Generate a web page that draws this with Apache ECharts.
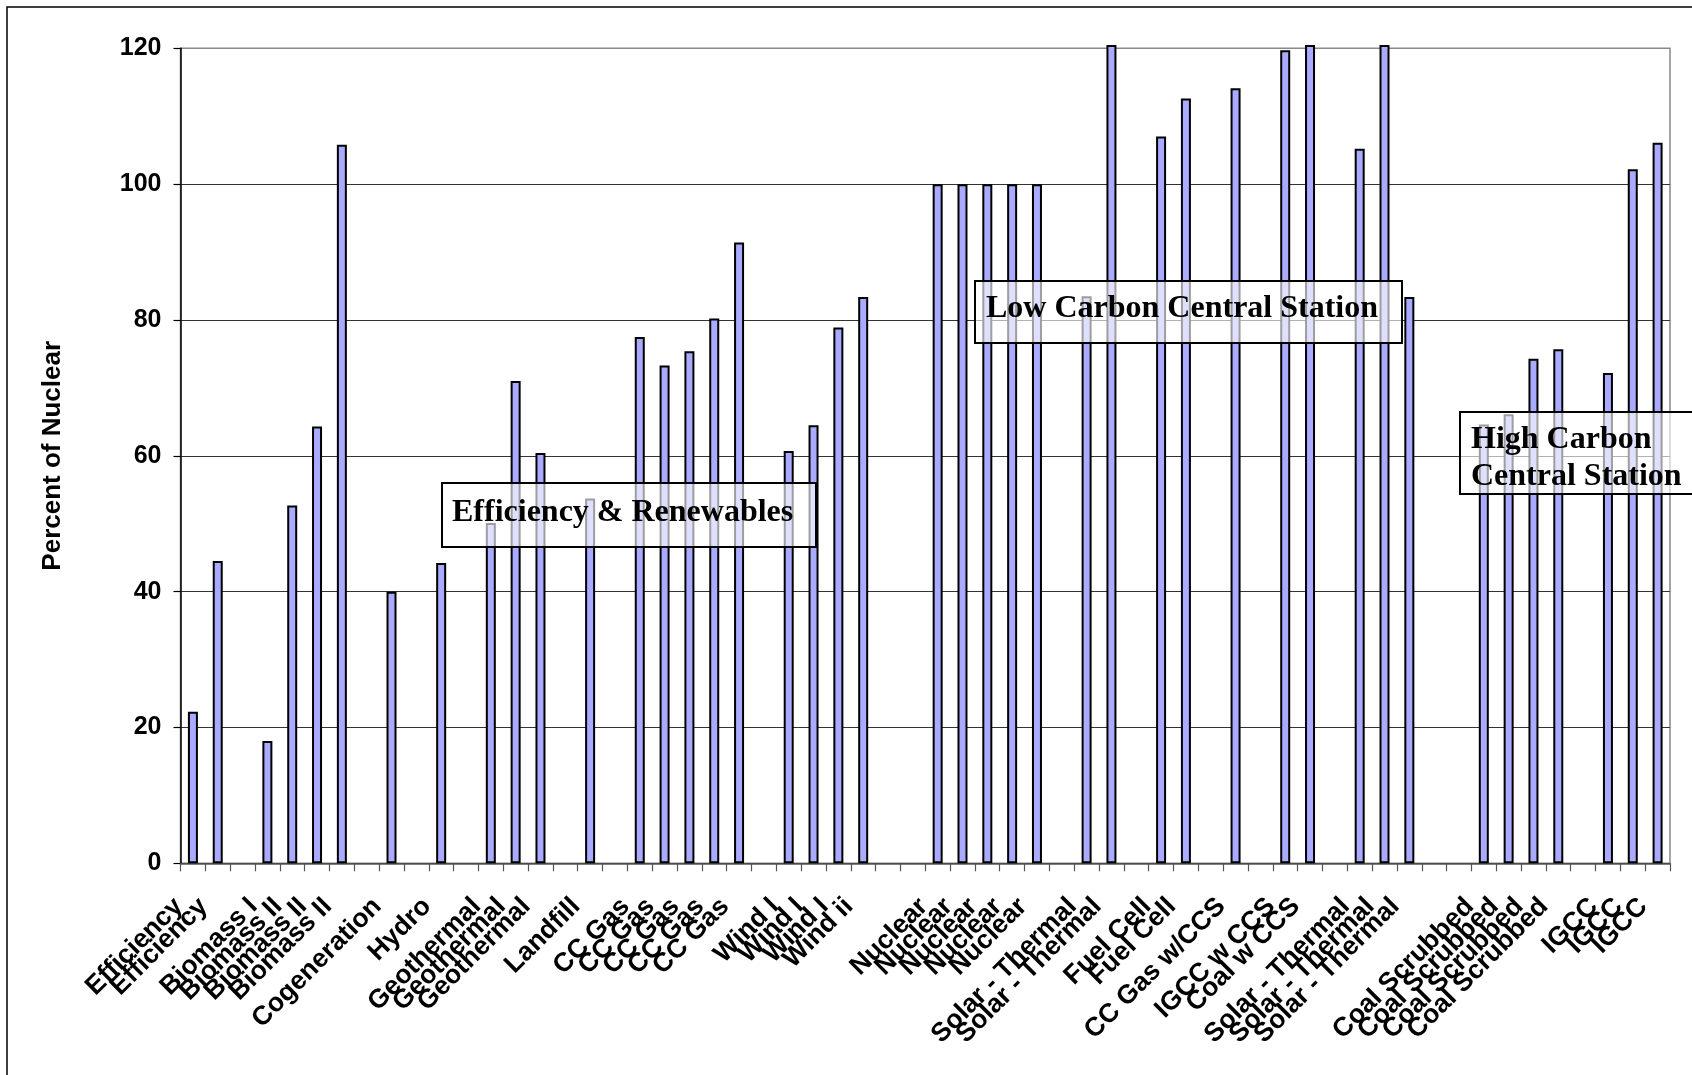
<!DOCTYPE html>
<html>
<head>
<meta charset="utf-8">
<title>Percent of Nuclear</title>
<script src="https://cdn.jsdelivr.net/npm/echarts@6/dist/echarts.min.js"></script>
<style>
  html, body { margin: 0; padding: 0; background: #ffffff; }
  #chart { width: 1692px; height: 1075px; }
</style>
</head>
<body>
<div id="chart"></div>
<script>
// Technology categories along the x axis (blank entries are spacer slots)
const categories = [
  'Efficiency', 'Efficiency', '', 'Biomass I', 'Biomass II', 'Biomass II', 'Biomass II', '',
  'Cogeneration', '', 'Hydro', '', 'Geothermal', 'Geothermal', 'Geothermal', '',
  'Landfill', '', 'CC Gas', 'CC Gas', 'CC Gas', 'CC Gas', 'CC Gas', '',
  'Wind I', 'Wind I', 'Wind I', 'Wind ii', '', '',
  'Nuclear', 'Nuclear', 'Nuclear', 'Nuclear', 'Nuclear', '',
  'Solar - Thermal', 'Solar - Thermal', '', 'Fuel Cell', 'Fuel Cell', '',
  'CC Gas w/CCS', '', 'IGCC w CCS', 'Coal w CCS', '',
  'Solar - Thermal', 'Solar - Thermal', 'Solar - Thermal', '', '',
  'Coal Scrubbed', 'Coal Scrubbed', 'Coal Scrubbed', 'Coal Scrubbed', '',
  'IGCC', 'IGCC', 'IGCC'
];

// Cost relative to nuclear, in percent (null = spacer slot)
const percentOfNuclear = [
  22.3, 44.5, null, 18.0, 52.7, 64.3, 105.8, null,
  40.0, null, 44.2, null, 50.1, 71.0, 60.4, null,
  53.7, null, 77.5, 73.3, 75.4, 80.2, 91.4, null,
  60.7, 64.5, 78.9, 83.4, null, null,
  100, 100, 100, 100, 100, null,
  83.5, 120.5, null, 107.0, 112.6, null,
  114.1, null, 119.7, 120.5, null,
  105.2, 120.5, 83.4, null, null,
  64.6, 66.1, 74.3, 75.7, null,
  72.2, 102.2, 106.1
];

// Value axis ticks
const yTicks = [0, 20, 40, 60, 80, 100, 120];

// Group captions
const groupLabels = ['Efficiency & Renewables', 'Low Carbon Central Station', 'High Carbon\nCentral Station'];

const chart = echarts.init(document.getElementById('chart'), null, { renderer: 'canvas' });

const axisFont = 'Liberation Sans, Arial, sans-serif';
const boxFont = 'Liberation Serif, Times New Roman, serif';

// Captions are drawn in a translucent framed box on top of the bars
function captionBox(x, y, w, h, text, textX, textDy, lineHeight) {
  return {
    type: 'group',
    z: 100,
    children: [
      {
        type: 'rect',
        shape: { x: x, y: y, width: w, height: h },
        style: { fill: 'rgba(255,255,255,0.62)', stroke: '#000', lineWidth: 2 },
        z: 100
      },
      {
        type: 'text',
        x: textX,
        y: y + h / 2 + textDy,
        style: {
          text: text,
          font: 'bold 32px ' + boxFont,
          fill: '#000',
          verticalAlign: 'middle',
          align: 'left',
          lineHeight: lineHeight
        },
        z: 101
      }
    ]
  };
}

const option = {
  backgroundColor: '#ffffff',
  animation: false,
  grid: {
    left: 180.5,
    right: 22,
    top: 48.3,
    bottom: 211.7,
    show: true,
    borderColor: '#888',
    borderWidth: 1.5,
    containLabel: false
  },
  xAxis: {
    type: 'category',
    data: categories,
    boundaryGap: true,
    axisLine: { show: true, lineStyle: { color: '#555', width: 1.5 } },
    axisTick: { show: true, alignWithLabel: false, interval: 0, length: 8, lineStyle: { color: '#555', width: 1.2 } },
    axisLabel: {
      interval: 0,
      rotate: 45,
      margin: 25,
      padding: [0, 20, 0, 0],
      color: '#000',
      fontFamily: axisFont,
      fontWeight: 'bold',
      fontSize: 26.5
    },
    splitLine: { show: false }
  },
  yAxis: {
    type: 'value',
    min: yTicks[0],
    max: yTicks[yTicks.length - 1],
    interval: 20,
    name: 'Percent of Nuclear',
    nameLocation: 'middle',
    nameGap: 115,
    nameRotate: 90,
    nameTextStyle: { color: '#000', fontFamily: axisFont, fontWeight: 'bold', fontSize: 26 },
    axisLine: { show: true, lineStyle: { color: '#000', width: 1.5 } },
    axisTick: { show: true, inside: false, length: 7, lineStyle: { color: '#000', width: 1.2 } },
    axisLabel: {
      margin: 19,
      color: '#000',
      fontFamily: axisFont,
      fontWeight: 'bold',
      fontSize: 25
    },
    splitLine: {
      show: true,
      lineStyle: {
        color: ['#333', '#333', '#333', '#333', '#333', '#333', '#888'],
        width: 1.2
      }
    }
  },
  series: [
    {
      type: 'bar',
      data: percentOfNuclear,
      barWidth: 10,
      clip: false,
      itemStyle: { color: '#aaaaff', borderColor: '#000', borderWidth: 2 },
      emphasis: { disabled: true }
    }
  ],
  graphic: [
    // outer frame
    {
      type: 'rect',
      z: 120,
      shape: { x: 7, y: 7, width: 1720, height: 1120 },
      style: { fill: 'none', stroke: '#000', lineWidth: 1.5 }
    },
    captionBox(442, 483, 374, 64, groupLabels[0], 452, -2.5, 36),
    captionBox(975, 281, 427, 62, groupLabels[1], 986, -3, 36),
    captionBox(1460, 412, 260, 82, groupLabels[2], 1471, 5, 37)
  ]
};

chart.setOption(option);
</script>
</body>
</html>
